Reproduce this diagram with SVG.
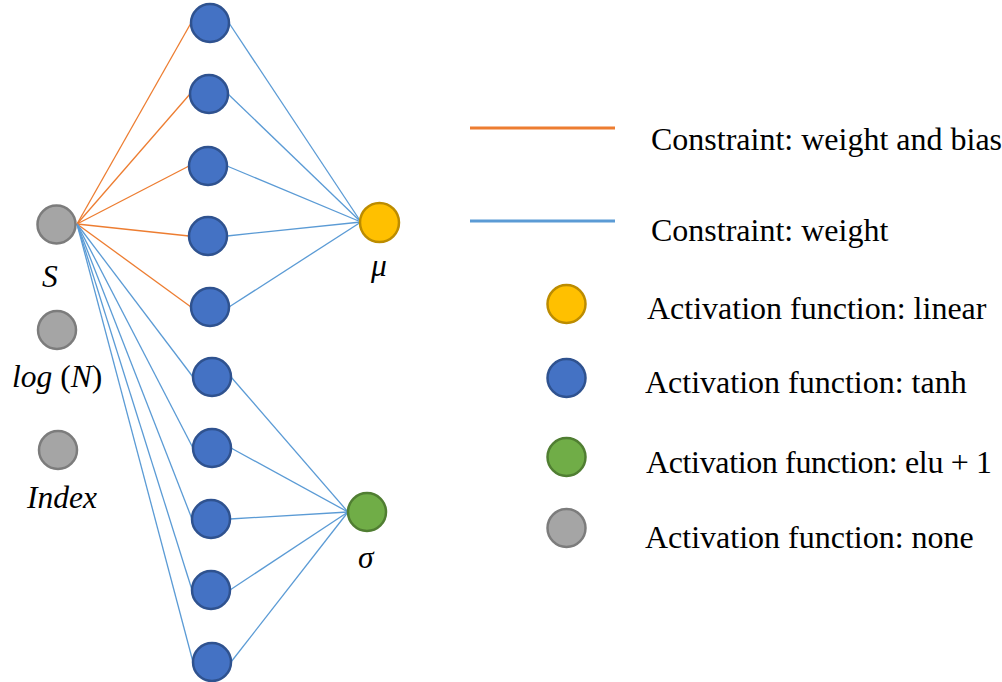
<svg xmlns="http://www.w3.org/2000/svg" width="1002" height="682" viewBox="0 0 1002 682">
<style>
.bl{fill:#4472C4;stroke:#2F528F;stroke-width:2.5}
.gy{fill:#A5A5A5;stroke:#7C7C7C;stroke-width:2.5}
.yl{fill:#FFC000;stroke:#BC8C00;stroke-width:2.5}
.gr{fill:#70AD47;stroke:#507E32;stroke-width:2.5}
.o{stroke:#ED7D31;stroke-width:1.3;fill:none}
.b{stroke:#5B9BD5;stroke-width:1.3;fill:none}
text{font-family:"Liberation Serif","Times New Roman",serif;font-size:31.5px;fill:#000}
.lg{font-size:32px}
.it{font-style:italic}
</style>
<rect width="1002" height="682" fill="#fff"/>
<g id="connectors">
<line class="o" x1="77" y1="224" x2="191" y2="23"/>
<line class="o" x1="77" y1="224" x2="190" y2="94"/>
<line class="o" x1="77" y1="224" x2="189" y2="166"/>
<line class="o" x1="77" y1="224" x2="189" y2="236"/>
<line class="o" x1="77" y1="224" x2="191" y2="307"/>
<line class="b" x1="77" y1="224" x2="193" y2="377"/>
<line class="b" x1="77" y1="224" x2="193" y2="448"/>
<line class="b" x1="77" y1="224" x2="192" y2="519"/>
<line class="b" x1="77" y1="224" x2="192" y2="590"/>
<line class="b" x1="77" y1="224" x2="193" y2="662"/>
<line class="b" x1="229" y1="23" x2="361" y2="222"/>
<line class="b" x1="228" y1="94" x2="361" y2="222"/>
<line class="b" x1="227" y1="166" x2="361" y2="222"/>
<line class="b" x1="227" y1="236" x2="361" y2="222"/>
<line class="b" x1="229" y1="307" x2="361" y2="222"/>
<line class="b" x1="231" y1="377" x2="348" y2="512"/>
<line class="b" x1="231" y1="448" x2="348" y2="512"/>
<line class="b" x1="230" y1="519" x2="348" y2="512"/>
<line class="b" x1="230" y1="590" x2="348" y2="512"/>
<line class="b" x1="231" y1="662" x2="348" y2="512"/>
</g>
<g id="in-S"><circle class="gy" cx="56.5" cy="224.5" r="19"/><text class="it" x="42" y="287">S</text></g>
<g id="in-logN"><circle class="gy" cx="57" cy="330" r="19"/><text x="12" y="387"><tspan class="it">log</tspan> (<tspan class="it">N</tspan>)</text></g>
<g id="in-index"><circle class="gy" cx="58" cy="450" r="19"/><text class="it" x="27" y="508">Index</text></g>
<g id="h1"><circle class="bl" cx="210" cy="23" r="19"/></g>
<g id="h2"><circle class="bl" cx="209" cy="94" r="19"/></g>
<g id="h3"><circle class="bl" cx="208" cy="166" r="19"/></g>
<g id="h4"><circle class="bl" cx="208" cy="236" r="19"/></g>
<g id="h5"><circle class="bl" cx="210" cy="307" r="19"/></g>
<g id="h6"><circle class="bl" cx="212" cy="377" r="19"/></g>
<g id="h7"><circle class="bl" cx="212" cy="448" r="19"/></g>
<g id="h8"><circle class="bl" cx="211" cy="519" r="19"/></g>
<g id="h9"><circle class="bl" cx="211" cy="590" r="19"/></g>
<g id="h10"><circle class="bl" cx="212" cy="662" r="19"/></g>
<g id="out-mu"><circle class="yl" cx="379.5" cy="222.5" r="19.5"/><text class="it" x="371" y="276">μ</text></g>
<g id="out-sigma"><circle class="gr" cx="367" cy="512" r="19"/><text class="it" x="358" y="568">σ</text></g>
<g id="legend">
<line x1="470" y1="128" x2="615" y2="128" stroke="#ED7D31" stroke-width="3"/>
<text class="lg" x="651" y="150">Constraint: weight and bias</text>
<line x1="470" y1="221" x2="615" y2="221" stroke="#5B9BD5" stroke-width="3"/>
<text class="lg" x="651" y="241">Constraint: weight</text>
<circle class="yl" cx="566.5" cy="304" r="19"/>
<text class="lg" x="647" y="319">Activation function: linear</text>
<circle class="bl" cx="566.5" cy="378" r="19"/>
<text class="lg" x="645" y="393">Activation function: tanh</text>
<circle class="gr" cx="566.5" cy="457" r="19"/>
<text class="lg" x="646" y="473" textLength="346" lengthAdjust="spacing">Activation function: elu + 1</text>
<circle class="gy" cx="566.5" cy="528" r="19"/>
<text class="lg" x="645" y="548">Activation function: none</text>
</g>
</svg>
